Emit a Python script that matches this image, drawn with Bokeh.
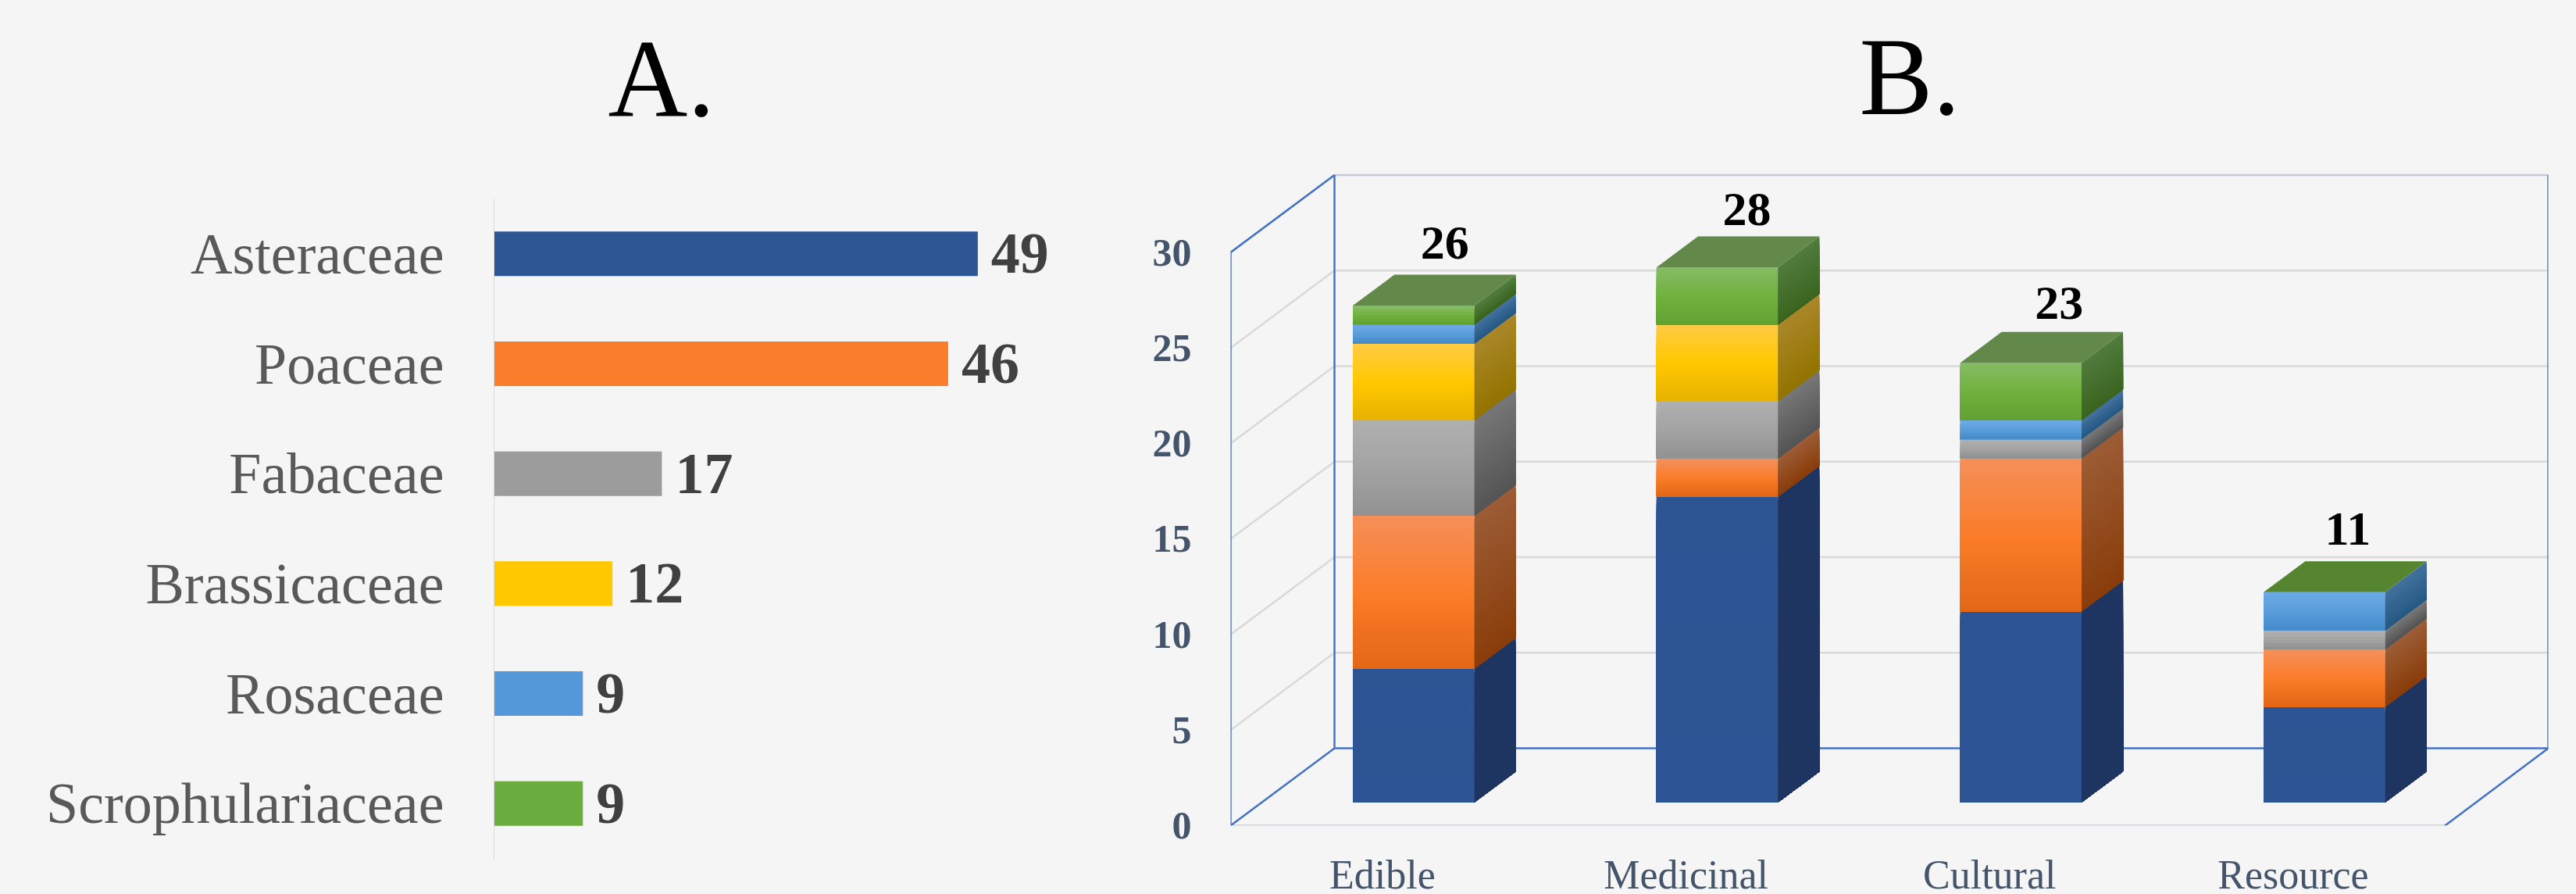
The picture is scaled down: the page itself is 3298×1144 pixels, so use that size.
from bokeh.embed import file_html
from bokeh.resources import INLINE
from bokeh.core.properties import value
from bokeh.layouts import row
from bokeh.models import Range1d, FixedTicker, ColumnDataSource
from bokeh.plotting import figure

# ---- data -------------------------------------------------------------
families = ["Asteraceae", "Poaceae", "Fabaceae", "Brassicaceae", "Rosaceae", "Scrophulariaceae"]
species_counts = [49, 46, 17, 12, 9, 9]

uses = ["Edible", "Medicinal", "Cultural", "Resource"]
asteraceae = [7, 16, 10, 5]
poaceae = [8, 2, 8, 3]
fabaceae = [5, 3, 1, 1]
brassicaceae = [4, 4, 0, 0]
rosaceae = [1, 0, 1, 2]
scrophulariaceae = [1, 3, 3, 0]
totals = [26, 28, 23, 11]
y_ticks = [0, 5, 10, 15, 20, 25, 30]

# ---- style ------------------------------------------------------------
BG = "#f5f5f5"
SERIF = "Liberation Serif"
flat_colors = ["#2e5594", "#f97d2b", "#9c9c9c", "#ffc800", "#5498d9", "#6bac3e"]
front_stops = [
    ("#2d5594", "#2d5594", "#2d5594"),
    ("#f58f58", "#fa7d2a", "#e36715"),
    ("#afafaf", "#a3a3a3", "#929292"),
    ("#ffcb42", "#ffc800", "#e8b300"),
    ("#6aa9e3", "#5a9ddb", "#468ccb"),
    ("#84bb62", "#70b13f", "#62a232"),
]
side_stops = [
    ("#1f3561", "#1f3561"),
    ("#9c5c35", "#8a3d0a"),
    ("#767676", "#555555"),
    ("#a98729", "#937400"),
    ("#41709c", "#265a85"),
    ("#4f7b3d", "#3b651f"),
]
cap_colors = ["#62894a", "#62894a", "#62894a", "#55862f"]
label_dx = [40, 38, 49, 30]
label_dy = [-41, -35, -37, -41]
WALL = "#4472c4"
GRID = "#d9d9d9"
X_PX, Y_PX = 388.7, 24.45        # px per category / per unit
DX, DY = 133 / X_PX, 99 / Y_PX   # depth projection of the chart box
Z0, Z1 = 0.3, 0.7                # depth span of the columns
BAR_L, BAR_W = 0.3, 0.4
TITLE_SHIFT = -53                # compensates the text glyph's baseline placement


def hex2rgb(h):
    return [int(h[i:i + 2], 16) for i in (1, 3, 5)]


def mix(a, b, t):
    A, B = hex2rgb(a), hex2rgb(b)
    return "#%02x%02x%02x" % tuple(round(A[i] + (B[i] - A[i]) * t) for i in range(3))


def ramp(stops, t):
    if len(stops) == 2:
        return mix(stops[0], stops[1], t)
    if t < 0.5:
        return mix(stops[0], stops[1], t * 2)
    return mix(stops[1], stops[2], (t - 0.5) * 2)


# ---- panel A ----------------------------------------------------------
A_UNIT = 12.64
A_ROW = 844 / 6
pa = figure(
    frame_width=768, frame_height=1098, min_border_left=632, min_border_right=0,
    min_border_top=0, min_border_bottom=46, frame_align=False,
    x_range=Range1d(0, 768 / A_UNIT), y_range=Range1d(0, 1098 / A_ROW),
    toolbar_location=None, output_backend="svg",
    background_fill_color=BG, border_fill_color=BG, outline_line_color=None,
)
pa.grid.visible = False
pa.xaxis.visible = False
row_y = [len(families) - 0.5 - i for i in range(len(families))]
ax = pa.yaxis[0]
ax.ticker = FixedTicker(ticks=row_y)
ax.major_label_overrides = {y: f for y, f in zip(row_y, families)}
ax.bounds = (0, len(families))
ax.axis_line_color = "#d9d9d9"
ax.axis_line_width = 1
ax.major_tick_line_color = None
ax.minor_tick_line_color = None
ax.major_label_standoff = 58
ax.major_label_text_font = SERIF
ax.major_label_text_font_size = "74px"
ax.major_label_text_color = "#595959"
src_a = ColumnDataSource(dict(f=row_y, v=species_counts, c=flat_colors, t=[str(v) for v in species_counts]))
pa.hbar(y="f", right="v", left=0, height=0.405, fill_color="c", line_color=None, source=src_a)
pa.text(x="v", y="f", text="t", x_offset=17, text_baseline="middle", text_align="left",
        text_font=value(SERIF), text_font_style="bold", text_font_size="74px", text_color="#404040", source=src_a)
pa.text(x=[(778 - 632) / A_UNIT], y=[(1098 - 152) / A_ROW], text=["A."], y_offset=TITLE_SHIFT,
        text_align="left", text_baseline="alphabetic", text_font=value(SERIF), text_font_size="141px", text_color="#000000")

# ---- panel B ----------------------------------------------------------
y_top = 1056 / Y_PX
x_end = 1687 / X_PX
pb = figure(
    frame_width=1687, frame_height=1056, min_border_left=175, min_border_right=36,
    min_border_top=0, min_border_bottom=88, frame_align=False,
    x_range=Range1d(0, x_end), y_range=Range1d(0, y_top),
    toolbar_location=None, output_backend="svg",
    background_fill_color=BG, border_fill_color=BG, outline_line_color=None,
)
pb.grid.visible = False

ya = pb.yaxis[0]
ya.ticker = FixedTicker(ticks=y_ticks)
ya.axis_line_color = None
ya.major_tick_line_color = None
ya.minor_tick_line_color = None
ya.major_label_standoff = 44
ya.major_label_text_font = SERIF
ya.major_label_text_font_style = "bold"
ya.major_label_text_font_size = "50px"
ya.major_label_text_color = "#44546a"

xa = pb.xaxis[0]
xa.ticker = FixedTicker(ticks=[i + 0.5 for i in range(len(uses))])
xa.major_label_overrides = {i + 0.5: u for i, u in enumerate(uses)}
xa.axis_line_color = None
xa.major_tick_line_color = None
xa.minor_tick_line_color = None
xa.major_label_standoff = 28
xa.major_label_text_font = SERIF
xa.major_label_text_font_size = "52px"
xa.major_label_text_color = "#44546a"

pb.text(x=[(2380 - 1575) / X_PX], y=[(1056 - 150) / Y_PX], text=["B."], y_offset=TITLE_SHIFT,
        text_align="left", text_baseline="alphabetic", text_font=value(SERIF), text_font_size="141px", text_color="#000000")

n_cat = len(uses)
# grid on the back wall and side wall
for t in y_ticks[1:]:
    pb.line([0, DX, x_end], [t, t + DY, t + DY], line_color=GRID if t < 30 else "#c3c9d8", line_width=2.5)
pb.line([0, n_cat], [0, 0], line_color="#d0d3da", line_width=3)
# box edges
pb.line([0, 0, DX, DX], [30, 0, DY, 30 + DY], line_color=WALL, line_width=2.5)
pb.line([x_end, x_end, n_cat], [30 + DY, DY, 0], line_color=WALL, line_width=2.5)
pb.line([0, DX], [30, 30 + DY], line_color=WALL, line_width=2.5)
pb.line([DX, x_end], [DY, DY], line_color=WALL, line_width=2.5)

series = [asteraceae, poaceae, fabaceae, brassicaceae, rosaceae, scrophulariaceae]
for i in range(n_cat):
    xl = i + BAR_L + Z0 * DX
    xr = xl + BAR_W
    y0 = Z0 * DY
    ddx = (Z1 - Z0) * DX
    ddy = (Z1 - Z0) * DY
    base = 0
    for s, vals in enumerate(series):
        v = vals[i]
        if v == 0:
            continue
        strips = max(2, int(v * Y_PX / 4))
        for k in range(strips):
            t = k / (strips - 1)
            ytop = base + v * (1 - k / strips)
            yb = base
            # each strip paints down to the segment's base, later ones overpaint
            pb.patch([xr, xr + ddx, xr + ddx, xr],
                     [y0 + yb, y0 + yb + ddy, y0 + ytop + ddy, y0 + ytop],
                     fill_color=ramp(side_stops[s], t), line_color=None)
            pb.quad(left=xl, right=xr, bottom=y0 + yb, top=y0 + ytop,
                    fill_color=ramp(front_stops[s], t), line_color=None)
        base += v
    # cap
    pb.patch([xl, xr, xr + ddx, xl + ddx],
             [y0 + base, y0 + base, y0 + base + ddy, y0 + base + ddy],
             fill_color=cap_colors[i], line_color=None)
    # total label
    pb.text(x=[xl + BAR_W / 2], y=[y0 + base + ddy], text=[str(totals[i])],
            x_offset=label_dx[i], y_offset=label_dy[i], text_align="center", text_baseline="alphabetic",
            text_font=value(SERIF), text_font_style="bold", text_font_size="62px", text_color="#000000")

layout = row(pa, pb, styles={"background-color": BG})
open("out.html", "w").write(file_html(layout, INLINE))
